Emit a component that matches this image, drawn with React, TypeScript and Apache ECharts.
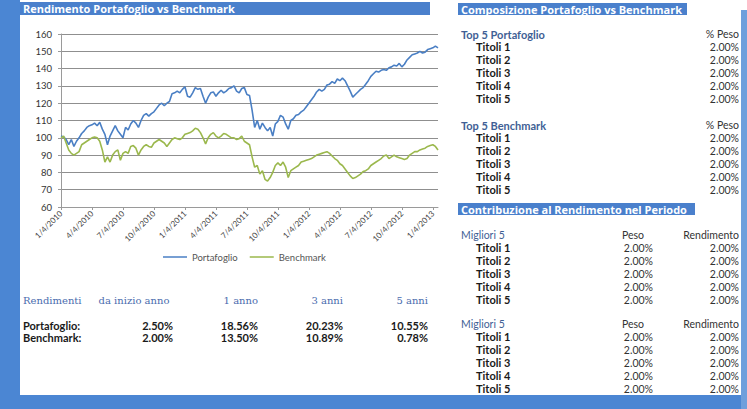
import React, { useEffect, useRef } from "react";
import * as echarts from "echarts";

// ---- data ----
const startLabelDay = 4; // labels are m/4/yyyy
const startYear = 2010;
const pointStepMonths = 0.25; // roughly weekly samples
const endMonth = 36.5;

const portfolioValues = [
  101, 100.5, 99, 96, 99, 95, 98, 100, 102.5, 104, 106, 107, 107.5, 108.5, 107, 109,
  105, 102, 96, 101, 104, 107, 104, 102, 100, 106, 104.5, 108, 110, 108.5, 106, 110,
  113, 114, 112.5, 114, 115, 117, 119, 120, 118.5, 120, 121, 125.5, 126, 127, 126, 128,
  129.5, 124, 123.5, 126, 129, 128, 128.5, 124, 120, 123.5, 126, 126.5, 124, 126, 127.5, 126,
  127, 128.5, 129, 130, 127, 126, 128.5, 129, 125, 124.5, 116, 106, 110, 105, 108.5, 106,
  104, 106, 101, 108, 109.5, 113, 112, 108, 105, 110, 111, 113, 113.5, 115, 116, 118,
  120, 122, 124, 126.5, 128, 127, 128, 130.5, 131, 132.5, 131.5, 134, 133, 134.5, 133, 130,
  127, 123.5, 125, 126.5, 128, 129, 131, 133, 135.5, 137, 138.5, 138, 139, 139.5, 139, 140.5,
  141, 142, 141.5, 143, 141, 142.5, 145, 146.5, 148, 148.5, 149, 150, 149, 149.5, 151, 151.5,
  152, 153, 152,
];

const benchmarkValues = [
  100, 101, 97, 93, 91, 90, 91, 92, 96, 97, 98, 99, 100, 100.5, 100, 98,
  93, 86, 89, 86, 90, 92, 93, 87, 91, 92, 91, 95, 95.5, 94, 90, 93,
  95, 96, 95, 94.5, 97, 98, 99, 98, 97, 95, 97, 99, 100, 99.5, 99, 100,
  102, 102.5, 103, 104, 105.5, 105, 103, 100, 96.5, 100, 102, 103, 101, 100, 101, 102.5,
  102, 101, 100, 100, 99, 99.5, 101, 98, 97, 96, 89, 83, 84, 79, 81, 76,
  75, 77, 80, 84, 85.5, 84, 86, 83, 77, 81, 82, 83, 84, 86, 86.5, 87,
  87.5, 88, 89, 90, 90.5, 91, 91.5, 92, 91, 89.5, 88, 87, 85, 84, 82, 80,
  78, 76.5, 77, 78, 79, 80.5, 81, 82, 84, 85, 86, 87, 88, 89.5, 90, 88,
  89, 90, 89, 88.5, 88, 87.5, 88, 90, 91, 92, 92, 93, 93.5, 94, 95, 95.5,
  96, 95, 93,
];

const seriesNames = ["Portafoglio", "Benchmark"];

const returnHeaders = ["Rendimenti", "da inizio anno", "1 anno", "3 anni", "5 anni"];
const returnRowLabels = ["Portafoglio:", "Benchmark:"];
const portfolioReturns = ["2.50%", "18.56%", "20.23%", "10.55%"];
const benchmarkReturns = ["2.00%", "13.50%", "10.89%", "0.78%"];

const holdingNames = ["Titoli 1", "Titoli 2", "Titoli 3", "Titoli 4", "Titoli 5"];
const topPortfolioWeights = ["2.00%", "2.00%", "2.00%", "2.00%", "2.00%"];
const topBenchmarkWeights = ["2.00%", "2.00%", "2.00%", "2.00%", "2.00%"];
const best1Weights = ["2.00%", "2.00%", "2.00%", "2.00%", "2.00%"];
const best1Returns = ["2.00%", "2.00%", "2.00%", "2.00%", "2.00%"];
const best2Weights = ["2.00%", "2.00%", "2.00%", "2.00%", "2.00%"];
const best2Returns = ["2.00%", "2.00%", "2.00%", "2.00%", "2.00%"];

const titles = [
  "Rendimento Portafoglio vs Benchmark",
  "Composizione Portafoglio vs Benchmark",
  "Contribuzione al Rendimento nel Periodo",
];

// ---- styles ----
const BLUE = "#4b86d3";
const BAR = "#4a80cc";
const HEAD = "#3f5f95";
const SANS = "Lato, 'Open Sans', sans-serif";
const TITLE = "'Open Sans', Lato, sans-serif";
const SERIF = "'DejaVu Serif', 'Liberation Serif', serif";

function txt(text: string, x: number, y: number, font: string, fill: string, align = "left") {
  return {
    type: "text",
    x,
    y,
    z: 10,
    style: { text, font, fill, textAlign: align, verticalAlign: "middle", textVerticalAlign: "middle" },
  };
}

function rect(x: number, y: number, w: number, h: number, fill: string) {
  return { type: "rect", shape: { x, y, width: w, height: h }, style: { fill }, z: 0 };
}

export default function App() {
  const ref = useRef<HTMLDivElement>(null);

  useEffect(() => {
    document.body.style.margin = "0";
    if (!ref.current) return;
    const chart = echarts.init(ref.current, null, { renderer: "svg" });

    const g: any[] = [];
    // frame
    g.push(rect(0, 0, 20, 409, BLUE));
    g.push(rect(0, 395, 747, 14, BLUE));
    g.push(rect(741, 10, 6, 399, "#6f9fdc"));
    // title bars
    g.push(rect(20, 2, 410, 13, BAR));
    g.push(txt(titles[0], 23, 8.5, `bold 11px ${TITLE}`, "#ffffff"));
    g.push(rect(458, 3, 229, 12, BAR));
    g.push(txt(titles[1], 461, 9, `bold 11px ${TITLE}`, "#ffffff"));
    g.push(rect(458, 203, 237, 12, BAR));
    g.push(txt(titles[2], 461, 209, `bold 11px ${TITLE}`, "#ffffff"));

    // returns table
    const retX = [23, 134, 258, 343, 428];
    const retAlign = ["left", "center", "right", "right", "right"];
    returnHeaders.forEach((h, i) =>
      g.push(txt(h, retX[i], 300, `10px ${SERIF}`, "#4a6cae", retAlign[i]))
    );
    const valX = [173, 258, 343, 428];
    [portfolioReturns, benchmarkReturns].forEach((row, r) => {
      const y = 325 + r * 12.5;
      g.push(txt(returnRowLabels[r], 23, y, `bold 11px ${SANS}`, "#1a1a1a"));
      row.forEach((v, i) => g.push(txt(v, valX[i], y, `bold 11px ${SANS}`, "#1a1a1a", "right")));
    });

    // composition tables
    const comp = (title: string, y0: number, weights: string[]) => {
      g.push(txt(title, 461, y0, `bold 11px ${SANS}`, HEAD));
      g.push(txt("% Peso", 739, y0, `10.5px ${SANS}`, "#333333", "right"));
      holdingNames.forEach((n, i) => {
        const y = y0 + 13 * (i + 1) - 0.5;
        g.push(txt(n, 476, y, `bold 11px ${SANS}`, "#1a1a1a"));
        g.push(txt(weights[i], 739, y, `10.5px ${SANS}`, "#333333", "right"));
      });
    };
    comp("Top 5 Portafoglio", 34, topPortfolioWeights);
    comp("Top 5 Benchmark", 125, topBenchmarkWeights);

    const contrib = (y0: number, w: string[], r: string[]) => {
      g.push(txt("Migliori 5", 461, y0, `10.5px ${SANS}`, HEAD));
      g.push(txt("Peso", 633, y0, `10.5px ${SANS}`, "#333333", "center"));
      g.push(txt("Rendimento", 739, y0, `10.5px ${SANS}`, "#333333", "right"));
      holdingNames.forEach((n, i) => {
        const y = y0 + 13 * (i + 1) - 0.5;
        g.push(txt(n, 476, y, `bold 11px ${SANS}`, "#1a1a1a"));
        g.push(txt(w[i], 653, y, `10.5px ${SANS}`, "#333333", "right"));
        g.push(txt(r[i], 739, y, `10.5px ${SANS}`, "#333333", "right"));
      });
    };
    contrib(235, best1Weights, best1Returns);
    contrib(324, best2Weights, best2Returns);

    const toPairs = (vals: number[]) => vals.map((v, i) => [i * pointStepMonths, v]);

    chart.setOption({
      animation: false,
      backgroundColor: "#ffffff",
      textStyle: { fontFamily: SANS },
      grid: { left: 61, top: 34, right: 747 - 438, bottom: 409 - 207, containLabel: false },
      legend: {
        data: seriesNames,
        left: 158,
        top: 247,
        icon: "rect",
        itemWidth: 24,
        itemHeight: 1.5,
        itemGap: 12,
        textStyle: { fontSize: 9.5, color: "#555555", fontFamily: SANS },
      },
      xAxis: {
        type: "value",
        min: 0,
        max: endMonth,
        interval: 3,
        axisLine: { show: true, lineStyle: { color: "#9a9a9a" } },
        axisTick: { show: true, length: 3, lineStyle: { color: "#9a9a9a" } },
        splitLine: { show: false },
        axisLabel: {
          rotate: 45,
          fontSize: 8,
          color: "#444444",
          margin: 5,
          showMaxLabel: false,
          formatter: (v: number) => {
            const m = Math.round(v);
            return `${(m % 12) + 1}/${startLabelDay}/${startYear + Math.floor(m / 12)}`;
          },
        },
      },
      yAxis: {
        type: "value",
        min: 60,
        max: 160,
        interval: 10,
        axisLine: { show: true, lineStyle: { color: "#9a9a9a" } },
        axisTick: { show: true, length: 3, lineStyle: { color: "#9a9a9a" } },
        splitLine: { show: true, lineStyle: { color: "#8f8f8f", width: 1 } },
        axisLabel: { fontSize: 9.5, color: "#333333", margin: 9 },
      },
      series: [
        {
          name: seriesNames[0],
          type: "line",
          data: toPairs(portfolioValues),
          showSymbol: false,
          lineStyle: { color: "#4a7fc4", width: 1.6 },
          itemStyle: { color: "#4a7fc4" },
        },
        {
          name: seriesNames[1],
          type: "line",
          data: toPairs(benchmarkValues),
          showSymbol: false,
          lineStyle: { color: "#9bb84d", width: 1.6 },
          itemStyle: { color: "#9bb84d" },
        },
      ],
      graphic: { elements: g },
    });

    return () => chart.dispose();
  }, []);

  return <div ref={ref} style={{ width: 747, height: 409 }} />;
}
